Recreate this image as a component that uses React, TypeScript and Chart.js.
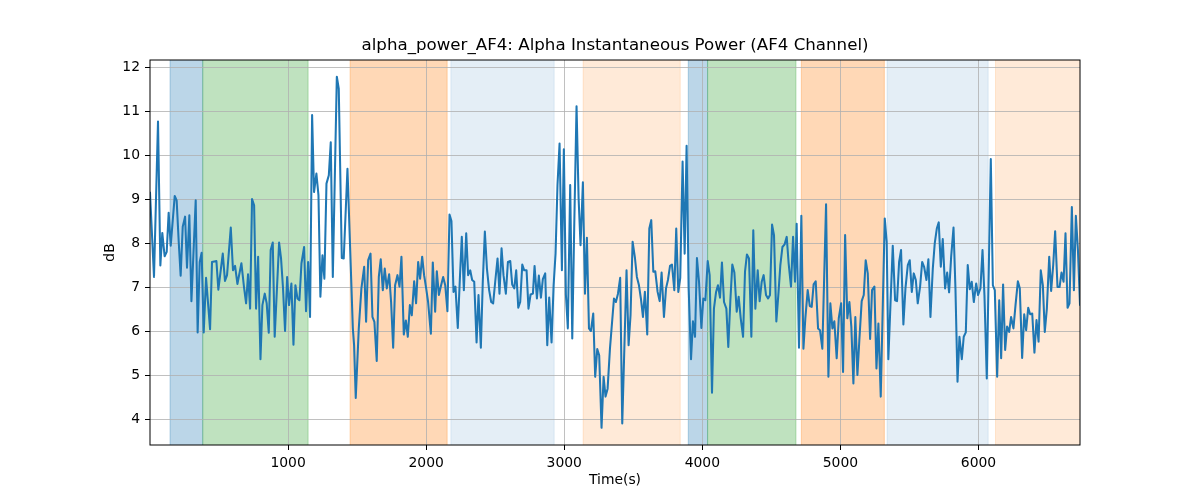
import React, { useEffect, useRef } from "react";
import { Chart, registerables } from "chart.js";

Chart.register(...registerables);

const FONT = "'DejaVu Sans', sans-serif";
const TITLE = "alpha_power_AF4: Alpha Instantaneous Power (AF4 Channel)";
const X_LABEL = "Time(s)";
const Y_LABEL = "dB";
const X_TICKS = [1000, 2000, 3000, 4000, 5000, 6000];
const Y_TICKS = [4, 5, 6, 7, 8, 9, 10, 11, 12];
const X_MIN = 0;
const X_MAX = 6735;
const Y_MIN = 3.42;
const Y_MAX = 12.17;

const TIMES = [
  0, 29, 58, 75, 89, 106, 121, 135, 150, 179, 193, 208, 222, 237, 254, 268, 285, 300, 331, 345, 360, 374, 389, 406, 435, 449, 481, 495, 527, 543, 558, 585, 601, 616, 633, 662,
  681, 696, 710, 725, 739, 754, 768, 783, 800, 814, 831, 845, 860, 874, 889, 903, 935, 949, 963, 978, 993, 1007, 1024, 1039, 1053, 1068, 1082, 1097, 1116, 1130, 1145, 1159, 1174, 1188, 1205, 1220, 1234, 1249, 1263, 1278, 1295, 1309, 1324,
  1353, 1367, 1389, 1403, 1430, 1469, 1478, 1490, 1512, 1531, 1551, 1565, 1580, 1597, 1611, 1625, 1642, 1657, 1671, 1686, 1700, 1715, 1732, 1746, 1761, 1775, 1792, 1807, 1821, 1838, 1853, 1867, 1882, 1896, 1913, 1927, 1942, 1956, 1971, 1985,
  2000, 2014, 2034, 2048, 2065, 2077, 2092, 2106, 2123, 2138, 2154, 2169, 2183, 2198, 2212, 2229, 2244, 2258, 2273, 2290, 2304, 2319, 2333, 2348, 2365, 2379, 2396, 2410, 2425, 2440, 2456, 2471, 2485, 2500, 2517, 2531, 2546, 2560, 2577, 2592, 2609, 2623, 2638, 2652, 2667, 2681,
  2696, 2710, 2727, 2741, 2756, 2773, 2785, 2802, 2816, 2831, 2845, 2862, 2877, 2891, 2908, 2923, 2937, 2951, 2966, 2983, 2997, 3012, 3026, 3043, 3058, 3072, 3089, 3104, 3118, 3135, 3150, 3164, 3179, 3193, 3210, 3224, 3239, 3253, 3270, 3285, 3299, 3314,
  3331, 3360, 3374, 3389, 3405, 3420, 3451, 3466, 3480, 3495, 3512, 3526, 3541, 3555, 3570, 3584, 3601, 3616, 3630, 3645, 3659, 3676, 3691, 3705, 3722, 3737, 3751, 3766, 3780, 3797, 3811, 3826, 3840, 3857, 3872, 3886, 3901, 3918, 3932, 3947, 3961, 3976, 3993, 4007,
  4022, 4039, 4053, 4070, 4084, 4099, 4113, 4128, 4142, 4157, 4174, 4188, 4203, 4217, 4232, 4249, 4263, 4278, 4295, 4309, 4323, 4338, 4355, 4369, 4384, 4401, 4415, 4430, 4444, 4461, 4476, 4490, 4505, 4519, 4536, 4551, 4565, 4580, 4596, 4611, 4625, 4642, 4657, 4671,
  4683, 4700, 4717, 4732, 4746, 4763, 4778, 4792, 4806, 4821, 4838, 4852, 4869, 4896, 4913, 4927, 4942, 4956, 4973, 4988, 5005, 5019, 5034, 5050, 5065, 5079, 5094, 5108, 5123, 5137, 5154, 5169, 5183, 5198, 5215, 5229, 5246, 5261, 5275, 5292, 5321, 5335, 5347,
  5379, 5396, 5410, 5425, 5439, 5456, 5471, 5488, 5502, 5517, 5531, 5546, 5560, 5577, 5592, 5606, 5623, 5637, 5652, 5669, 5683, 5698, 5712, 5727, 5741, 5758, 5773, 5787, 5802, 5819, 5833, 5848, 5862, 5879, 5893, 5908, 5922, 5937, 5951, 5966, 5983, 5997, 6014,
  6029, 6043, 6060, 6089, 6104, 6118, 6135, 6150, 6164, 6178, 6193, 6207, 6222, 6236, 6253, 6268, 6285, 6299, 6316, 6331, 6345, 6360, 6374, 6389, 6405, 6420, 6435, 6451, 6466, 6480, 6495, 6512, 6526, 6541, 6555, 6572, 6587, 6601, 6616, 6630, 6645, 6659, 6676, 6691, 6705, 6720, 6735,
];

const VALUES = [
  9.15, 7.24, 10.77, 7.5, 8.24, 7.71, 7.81, 8.7, 7.95, 9.08, 8.98, 8.04, 7.27, 8.38, 8.61, 7.45, 8.64, 6.69, 8.98, 5.98, 7.58, 7.79, 5.98, 7.22, 6.05, 7.58, 7.6, 6.95, 7.77, 7.15, 7.28, 8.36, 7.39, 7.49, 7.08, 7.55,
  7.0, 6.64, 7.3, 6.52, 9.01, 8.87, 6.52, 7.7, 5.37, 6.6, 6.86, 6.64, 5.97, 7.85, 8.02, 5.88, 8.02, 7.66, 7.0, 6.01, 7.24, 6.6, 7.09, 5.7, 7.05, 6.75, 6.71, 7.55, 7.92, 6.46, 7.58, 6.33, 10.92, 9.17, 9.59, 9.1, 6.79, 7.73, 7.2, 9.36, 9.55, 10.3, 7.24,
  11.79, 11.52, 7.67, 7.66, 9.7, 6.07, 5.69, 4.49, 6.07, 6.98, 7.47, 6.22, 7.62, 7.77, 6.33, 6.22, 5.33, 7.24, 7.64, 6.94, 7.43, 6.98, 7.3, 6.67, 5.63, 7.05, 7.28, 7.02, 7.7, 5.93, 6.25, 5.88, 6.6, 6.37, 7.14, 6.64, 7.58, 7.2, 7.7, 7.28,
  6.98, 6.67, 5.95, 7.57, 6.45, 7.37, 6.83, 7.02, 7.24, 7.05, 6.46, 8.66, 8.51, 6.9, 7.02, 6.08, 7.2, 8.15, 6.94, 8.23, 7.28, 7.39, 7.17, 7.13, 5.75, 6.83, 5.63, 7.13, 8.27, 7.43, 6.94, 6.67, 6.64, 7.13, 7.66, 6.86, 7.89, 7.28, 6.86, 7.58, 7.6, 7.07, 6.98, 7.39, 6.54, 6.67,
  7.52, 7.39, 7.39, 6.52, 6.84, 6.86, 7.49, 6.75, 7.27, 6.77, 7.19, 7.32, 5.69, 6.77, 5.75, 7.05, 7.77, 9.33, 10.27, 7.39, 10.14, 6.83, 6.07, 9.33, 5.84, 8.34, 11.12, 9.02, 7.96, 9.39, 6.86, 8.13, 6.07, 6.01, 6.41, 4.97, 5.6, 5.46, 3.81, 4.97, 4.52, 4.7,
  5.61, 6.75, 6.67, 6.86, 7.22, 3.91, 7.39, 5.69, 6.37, 8.04, 7.67, 7.24, 7.05, 6.75, 6.33, 6.9, 5.93, 8.34, 8.53, 7.36, 7.37, 6.9, 6.69, 7.34, 6.33, 6.98, 7.17, 7.49, 7.52, 6.94, 8.34, 6.9, 7.22, 9.86, 7.77, 10.22, 6.98, 5.37, 6.23, 5.88, 7.67, 7.13, 6.08, 6.75,
  6.71, 7.6, 7.28, 4.61, 6.52, 6.89, 7.05, 6.77, 7.57, 6.67, 6.52, 5.65, 6.71, 7.52, 7.34, 6.45, 6.79, 6.3, 5.88, 7.36, 7.75, 7.66, 5.88, 8.3, 6.52, 7.39, 6.69, 7.13, 7.28, 6.83, 6.75, 6.83, 8.43, 8.19, 6.23, 6.86, 7.51, 7.92, 7.98, 8.15, 7.55, 7.02, 8.15, 7.13,
  8.45, 5.63, 8.63, 5.61, 6.3, 6.94, 6.58, 6.56, 7.07, 7.14, 6.07, 6.03, 5.61, 8.89, 4.97, 6.64, 6.07, 6.23, 5.39, 6.3, 6.64, 5.08, 8.19, 6.3, 6.67, 6.11, 4.82, 6.33, 5.01, 5.8, 6.69, 6.83, 7.62, 7.32, 5.83, 6.94, 7.02, 5.16, 6.18, 4.52, 8.57, 8.04, 5.37,
  7.95, 6.71, 6.69, 7.58, 7.85, 6.16, 6.98, 7.51, 7.62, 6.9, 7.32, 7.17, 6.64, 7.02, 7.58, 7.47, 7.17, 7.64, 6.33, 7.43, 8.0, 8.34, 8.48, 7.47, 8.1, 6.98, 7.34, 6.89, 7.7, 8.36, 6.98, 4.86, 5.88, 5.37, 5.88, 5.98, 7.51, 6.96, 7.13, 6.67, 7.09, 6.83, 6.98,
  7.85, 6.83, 4.93, 9.92, 7.05, 6.94, 4.97, 6.71, 5.39, 7.07, 5.58, 6.11, 5.99, 6.33, 6.07, 6.6, 7.14, 6.98, 5.4, 6.39, 6.03, 6.54, 6.39, 6.41, 5.52, 6.26, 5.77, 7.39, 7.05, 5.99, 6.52, 7.7, 6.92, 7.51, 8.28, 7.01, 7.01, 7.34, 7.13, 8.23, 6.54, 6.64, 8.83, 6.94, 8.63, 7.85, 6.61,
];

const SPAN_STARTS = [145, 382, 1449, 2179, 3137, 3898, 4038, 4717, 5338, 6123];
const SPAN_ENDS = [382, 1145, 2152, 2927, 3840, 4038, 4678, 5318, 6070, 6760];
const SPAN_COLORS = [
  "rgba(31,119,180,0.3)",
  "rgba(44,160,44,0.3)",
  "rgba(255,127,14,0.3)",
  "rgba(31,119,180,0.12)",
  "rgba(255,127,14,0.16)",
  "rgba(31,119,180,0.3)",
  "rgba(44,160,44,0.3)",
  "rgba(255,127,14,0.3)",
  "rgba(31,119,180,0.12)",
  "rgba(255,127,14,0.16)",
];

export default function App() {
  const ref = useRef<HTMLCanvasElement>(null);

  useEffect(() => {
    if (!ref.current) return;

    const spanPlugin = {
      id: "spans",
      beforeDraw(chart: any) {
        const { ctx, chartArea: a, scales } = chart;
        const xs = scales.x;
        ctx.save();
        ctx.beginPath();
        ctx.rect(a.left, a.top, a.right - a.left, a.bottom - a.top);
        ctx.clip();
        for (let i = 0; i < SPAN_STARTS.length; i++) {
          const x0 = xs.getPixelForValue(SPAN_STARTS[i]);
          const x1 = xs.getPixelForValue(SPAN_ENDS[i]);
          ctx.fillStyle = SPAN_COLORS[i];
          ctx.fillRect(x0, a.top, x1 - x0, a.bottom - a.top);
          ctx.strokeStyle = SPAN_COLORS[i];
          ctx.lineWidth = 1;
          ctx.beginPath();
          ctx.moveTo(x0, a.top);
          ctx.lineTo(x0, a.bottom);
          ctx.moveTo(x1, a.top);
          ctx.lineTo(x1, a.bottom);
          ctx.stroke();
        }
        ctx.restore();
      },
    };

    const framePlugin = {
      id: "frame",
      afterDatasetsDraw(chart: any) {
        const { ctx, chartArea: a } = chart;
        ctx.save();
        ctx.strokeStyle = "#000";
        ctx.lineWidth = 1;
        ctx.strokeRect(a.left, a.top, a.right - a.left, a.bottom - a.top);
        ctx.restore();
      },
    };

    const tickFont = { family: FONT, size: 13.9 };

    const chart = new Chart(ref.current, {
      type: "line",
      data: {
        datasets: [
          {
            data: TIMES.map((t, i) => ({ x: t, y: VALUES[i] })),
            borderColor: "#1f77b4",
            backgroundColor: "#1f77b4",
            borderWidth: 2.05,
            borderJoinStyle: "round",
            borderCapStyle: "square",
            pointRadius: 0,
            tension: 0,
            fill: false,
          },
        ],
      },
      options: {
        responsive: false,
        animation: false,
        layout: { padding: { left: 98, right: 120, top: 0, bottom: 7 } },
        plugins: {
          legend: { display: false },
          tooltip: { enabled: false },
          title: {
            display: true,
            text: TITLE,
            fullSize: false,
            color: "#000",
            font: { family: FONT, size: 16.67, weight: "normal" },
            padding: { top: 36, bottom: 4 },
          },
        },
        scales: {
          x: {
            type: "linear",
            min: X_MIN,
            max: X_MAX,
            afterBuildTicks: (s: any) => {
              s.ticks = X_TICKS.map((v) => ({ value: v }));
            },
            afterFit: (s: any) => {
              s.height = 48;
            },
            ticks: {
              color: "#000",
              font: tickFont,
              padding: 5,
              maxRotation: 0,
              autoSkip: false,
              callback: (v: any) => String(v),
            },
            grid: { color: "#b0b0b0", lineWidth: 0.8, tickColor: "#000", tickLength: 5, tickWidth: 1 },
            border: { display: false },
            title: { display: true, text: X_LABEL, color: "#000", font: tickFont, padding: { top: 4, bottom: 4 } },
          },
          y: {
            type: "linear",
            min: Y_MIN,
            max: Y_MAX,
            afterBuildTicks: (s: any) => {
              s.ticks = Y_TICKS.map((v) => ({ value: v }));
            },
            afterFit: (s: any) => {
              s.width = 52;
            },
            ticks: {
              color: "#000",
              font: tickFont,
              padding: 5,
              autoSkip: false,
              callback: (v: any) => String(v),
            },
            grid: { color: "#b0b0b0", lineWidth: 0.8, tickColor: "#000", tickLength: 5, tickWidth: 1 },
            border: { display: false },
            title: { display: true, text: Y_LABEL, color: "#000", font: tickFont, padding: { top: 4, bottom: 4 } },
          },
        },
      },
      plugins: [spanPlugin, framePlugin],
    });

    return () => chart.destroy();
  }, []);

  return (
    <div style={{ position: "absolute", left: 0, top: 0, width: 1200, height: 500, background: "#fff" }}>
      <canvas ref={ref} width={1200} height={500} style={{ display: "block", width: 1200, height: 500 }} />
    </div>
  );
}
